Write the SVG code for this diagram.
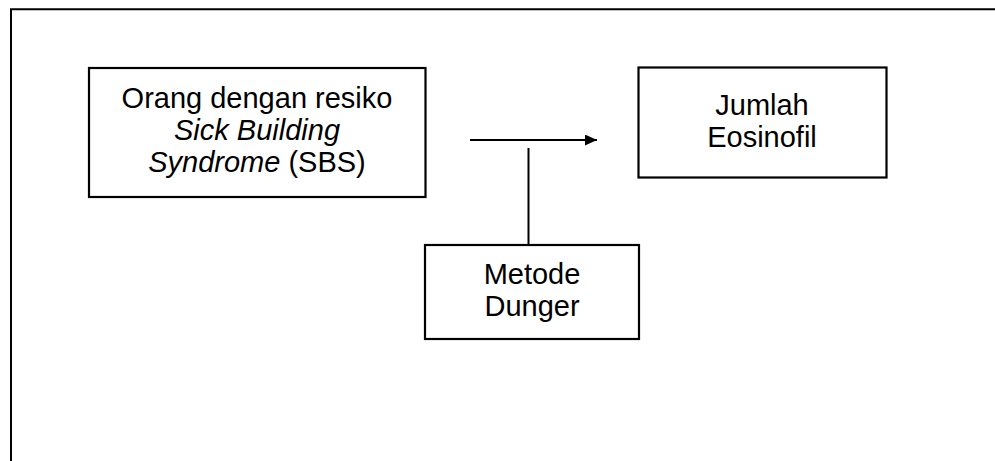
<svg xmlns="http://www.w3.org/2000/svg" width="995" height="461" viewBox="0 0 995 461">
<style>
.box{fill:#fff;stroke:#000;stroke-width:2.2}
.t{font-family:"Liberation Sans",Arial,sans-serif;font-size:29px;fill:#000;text-anchor:middle}
.ln{stroke:#000;stroke-width:2;fill:none}
</style>
<defs>
<marker id="ah" markerWidth="12" markerHeight="11" refX="12" refY="5.5" orient="auto" markerUnits="userSpaceOnUse">
<path d="M0,0 L12,5.5 L0,11 Z" fill="#000"/>
</marker>
</defs>
<rect width="995" height="461" fill="#fff"/>
<g id="frame">
<path d="M11,461 V9.3 H995" class="ln" stroke-width="2.2"/>
</g>
<g id="node-sbs">
<rect class="box" x="89" y="68" width="336.5" height="129"/>
<text class="t" x="257" y="108">Orang dengan resiko</text>
<text class="t" x="257" y="140"><tspan font-style="italic">Sick Building</tspan></text>
<text class="t" x="257" y="172"><tspan font-style="italic">Syndrome</tspan> (SBS)</text>
</g>
<g id="node-eosinofil">
<rect class="box" x="638.5" y="67.5" width="248" height="110"/>
<text class="t" x="762" y="115">Jumlah</text>
<text class="t" x="762" y="147">Eosinofil</text>
</g>
<g id="node-dunger">
<rect class="box" x="425" y="245" width="214" height="94"/>
<text class="t" x="532" y="284">Metode</text>
<text class="t" x="532" y="316">Dunger</text>
</g>
<g id="connectors">
<line class="ln" x1="470" y1="140" x2="597" y2="140" marker-end="url(#ah)"/>
<line class="ln" x1="528.5" y1="148" x2="528.5" y2="245"/>
</g>
</svg>
